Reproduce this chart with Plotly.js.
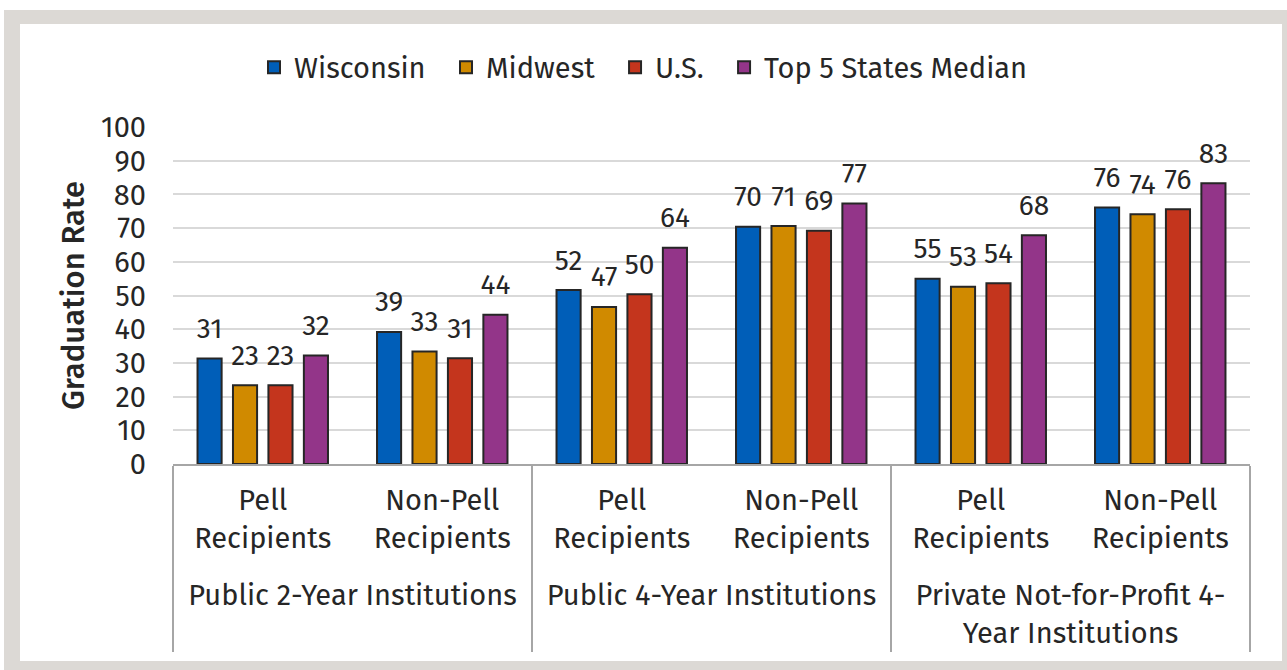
<!DOCTYPE html>
<html>
<head>
<meta charset="utf-8">
<script src="https://cdn.plot.ly/plotly-3.0.1.min.js"></script>
<style>
  html, body { margin: 0; padding: 0; background: #ffffff; width: 1287px; height: 670px; overflow: hidden; }
  #frame { position: absolute; left: 4px; top: 10px; width: 1300px; height: 680px; background: #dcd9d5; }
  #chart { position: absolute; left: 20px; top: 24px; width: 1262px; height: 637px; background: #ffffff; }
</style>
</head>
<body>
<div id="frame"></div>
<div id="chart"></div>
<script>
// ---- data ----
const groups = ['Public 2-Year Institutions', 'Public 4-Year Institutions', 'Private Not-for-Profit 4-<br>Year Institutions'];
const subgroups = ['Pell<br>Recipients', 'Non-Pell<br>Recipients'];
const seriesNames = ['Wisconsin', 'Midwest', 'U.S.', 'Top 5 States Median'];
const wisconsin = [31.3, 39.2, 51.6, 70.4, 55.0, 76.1];
const midwest   = [23.4, 33.4, 46.6, 70.6, 52.6, 74.1];
const us        = [23.4, 31.4, 50.4, 69.2, 53.6, 75.6];
const top5      = [32.2, 44.3, 64.2, 77.3, 67.9, 83.3];
const colors = ['#005EB8', '#D08A00', '#C4351D', '#933589'];

// ---- build multicategory x ----
// (an empty, tiny trailing line under the inner labels only adds spacing before the outer labels)
const SPACER = '<br><span style="font-size:1px">\u00a0</span>';
const xOuter = [], xInner = [];
groups.forEach(g => subgroups.forEach(s => { xOuter.push(g); xInner.push(s + SPACER); }));
const xVals = [xOuter, xInner];

const seriesVals = [wisconsin, midwest, us, top5];
const FONT = 'Fira Sans, Noto Sans, sans-serif';
const TXT = '#262626';
const FS = 29;

const traces = [];
seriesVals.forEach((vals, i) => {
  traces.push({
    type: 'bar', name: seriesNames[i] + '\u00a0\u00a0', x: xVals, y: vals,
    marker: { color: colors[i], line: { color: '#262626', width: 2 } },
    hoverinfo: 'y+name'
  });
});
seriesVals.forEach((vals, i) => {
  traces.push({
    type: 'scatter', mode: 'markers+text', x: xVals, y: vals,
    text: vals.map(v => Math.round(v).toString()),
    textposition: 'top center',
    textfont: { family: FONT, size: 28, color: TXT },
    marker: { size: 20, color: 'rgba(0,0,0,0)' },
    showlegend: false, hoverinfo: 'skip', cliponaxis: false
  });
});

const layout = {
  width: 1262, height: 637,
  paper_bgcolor: '#ffffff', plot_bgcolor: '#ffffff',
  font: { family: FONT, size: FS, color: TXT },
  margin: { l: 153, r: 32, t: 103, b: 197 },
  barmode: 'group', bargap: 0.21, bargroupgap: 0.32,
  scattermode: 'group', scattergap: 0.21,
  showlegend: true,
  legend: {
    orientation: 'h', xref: 'container', yref: 'container',
    x: 0.5, xanchor: 'center', y: 0.932, yanchor: 'middle',
    font: { family: FONT, size: FS, color: TXT }
  },
  xaxis: {
    type: 'multicategory',
    showdividers: true, dividercolor: '#a6a6a6', dividerwidth: 2,
    showline: true, linecolor: '#a6a6a6', linewidth: 2,
    showgrid: false, ticks: '',
    ticklabelstandoff: 9,
    tickfont: { family: FONT, size: FS, color: TXT }
  },
  yaxis: {
    range: [0, 100], dtick: 10, tick0: 0,
    showgrid: true, gridcolor: '#d9d9d9', gridwidth: 2,
    zeroline: false, showline: false, ticks: '',
    ticklabelstandoff: 26,
    tickfont: { family: FONT, size: FS, color: TXT },
    title: { text: 'Graduation Rate', font: { family: FONT, size: 31, color: TXT, weight: 500 }, standoff: 7 }
  }
};

Plotly.newPlot('chart', traces, layout, { displayModeBar: false, staticPlot: true });
</script>
</body>
</html>
